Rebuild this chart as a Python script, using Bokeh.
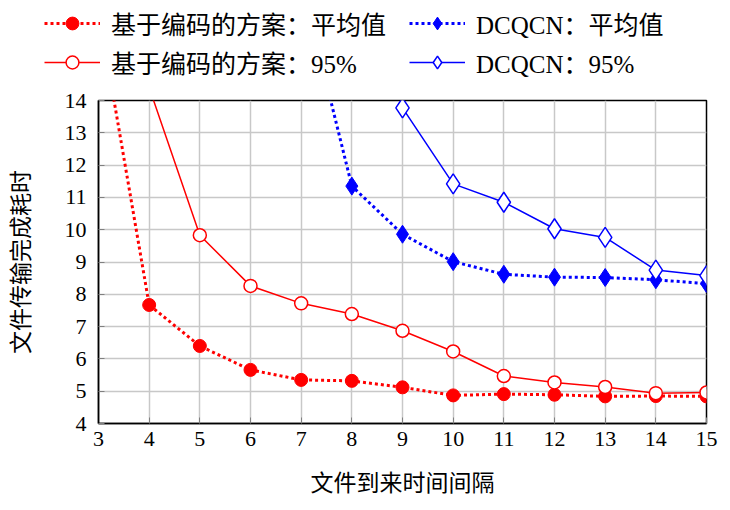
from bokeh.plotting import figure
from bokeh.models import Legend, LegendItem, FixedTicker, Range1d
from bokeh.layouts import column
from bokeh.embed import file_html
from bokeh.resources import INLINE

# Data
x_coded_mean = [3, 4, 5, 6, 7, 8, 9, 10, 11, 12, 13, 14, 15]
coded_mean = [16.8, 7.67, 6.40, 5.66, 5.35, 5.32, 5.12, 4.87, 4.91, 4.89, 4.84, 4.85, 4.84]
x_coded_p95 = [4, 5, 6, 7, 8, 9, 10, 11, 12, 13, 14, 15]
coded_p95 = [14.4, 9.83, 8.26, 7.72, 7.39, 6.87, 6.23, 5.47, 5.27, 5.13, 4.94, 4.96]
x_dcqcn_mean = [7, 8, 9, 10, 11, 12, 13, 14, 15]
dcqcn_mean = [17.7, 11.35, 9.86, 9.01, 8.62, 8.53, 8.52, 8.45, 8.33]
x_dcqcn_p95 = [9, 10, 11, 12, 13, 14, 15]
dcqcn_p95 = [13.77, 11.42, 10.85, 10.03, 9.76, 8.75, 8.58]

x_ticks = list(range(3, 16))
y_ticks = list(range(4, 15))

label_coded_mean = "基于编码的方案：平均值"
label_dcqcn_mean = "DCQCN：平均值"
label_coded_p95 = "基于编码的方案：95%"
label_dcqcn_p95 = "DCQCN：95%"
x_label = "文件到来时间间隔"
y_label = "文件传输完成耗时"

FONT = "Liberation Serif, Noto Sans CJK SC"
RED = "#ff0000"
BLUE = "#0000ff"

STYLES = [
    dict(color=RED, dash="3 3", lw=3, marker="circle", size=13, fill=RED, mlw=1),
    dict(color=BLUE, dash="3 3", lw=3, marker="diamond", size=18, fill=BLUE, mlw=1),
    dict(color=RED, dash="solid", lw=1.5, marker="circle", size=13, fill="white", mlw=1.5),
    dict(color=BLUE, dash="solid", lw=1.5, marker="diamond", size=20, fill="white", mlw=1.5),
]
SERIES = [
    (x_coded_mean, coded_mean, label_coded_mean),
    (x_dcqcn_mean, dcqcn_mean, label_dcqcn_mean),
    (x_coded_p95, coded_p95, label_coded_p95),
    (x_dcqcn_p95, dcqcn_p95, label_dcqcn_p95),
]

# ---- main plot ----
p = figure(width=730, height=425, output_backend="svg", toolbar_location=None,
           x_range=Range1d(3, 15), y_range=Range1d(4, 14),
           min_border_left=98, min_border_right=24, min_border_top=15, min_border_bottom=87)
p.frame_align = False
p.background_fill_color = "white"
p.border_fill_color = "white"
p.outline_line_color = "black"
p.outline_line_width = 1.5

for ax in (p.xaxis[0], p.yaxis[0]):
    ax.major_tick_in = 6
    ax.major_tick_out = 0
    ax.minor_tick_in = 0
    ax.minor_tick_out = 0
    ax.major_tick_line_color = "#808080"
    ax.axis_line_color = "black"
    ax.axis_line_width = 1.5
    ax.major_label_text_font = FONT
    ax.major_label_text_font_size = "22px"
    ax.major_label_text_color = "black"
    ax.axis_label_text_font = FONT
    ax.axis_label_text_font_size = "23px"
    ax.axis_label_text_font_style = "normal"
    ax.axis_label_text_color = "black"

p.xaxis[0].ticker = FixedTicker(ticks=x_ticks)
p.yaxis[0].ticker = FixedTicker(ticks=y_ticks)
p.xaxis[0].axis_label = x_label
p.yaxis[0].axis_label = y_label
p.xaxis[0].major_label_standoff = 8
p.yaxis[0].major_label_standoff = 12
p.xaxis[0].axis_label_standoff = 22
p.yaxis[0].axis_label_standoff = 28

p.xgrid.ticker = FixedTicker(ticks=x_ticks)
p.ygrid.ticker = FixedTicker(ticks=y_ticks)
for g in (p.xgrid[0], p.ygrid[0]):
    g.grid_line_color = "#c8c8c8"
    g.grid_line_width = 1.5

for (xs, ys, _), st in zip(SERIES, STYLES):
    p.line(xs, ys, line_color=st["color"], line_width=st["lw"], line_dash=st["dash"])
    p.scatter(xs, ys, marker=st["marker"], size=st["size"], fill_color=st["fill"],
              line_color=st["color"], line_width=st["mlw"])

# ---- legend strip on top (its renderers hold the same data, outside its view) ----
lf = figure(width=730, height=85, output_backend="svg", toolbar_location=None,
            x_range=Range1d(0, 1), y_range=Range1d(0, 1),
            x_axis_location=None, y_axis_location=None,
            min_border=0, min_border_left=0, min_border_right=0,
            min_border_top=0, min_border_bottom=0)
lf.frame_align = False
lf.outline_line_color = None
lf.xgrid.visible = False
lf.ygrid.visible = False
lf.background_fill_color = "white"
lf.border_fill_color = "white"

items = []
for (xs, ys, label), st in zip(SERIES, STYLES):
    rl = lf.line(xs, ys, line_color=st["color"], line_width=st["lw"], line_dash=st["dash"])
    rm = lf.scatter(xs, ys, marker=st["marker"], size=st["size"], fill_color=st["fill"],
                    line_color=st["color"], line_width=st["mlw"])
    items.append(LegendItem(label=label, renderers=[rl, rm]))

legend = Legend(items=items, orientation="horizontal", ncols=2, location=(44, 5))
legend.border_line_color = None
legend.background_fill_alpha = 0
legend.label_text_font = FONT
legend.label_text_font_size = "25px"
legend.label_text_color = "black"
legend.glyph_width = 56
legend.glyph_height = 32
legend.label_height = 32
legend.label_standoff = 11
legend.label_width = 295
legend.spacing = 3
legend.padding = 4
legend.margin = 0
lf.add_layout(legend)

layout = column(lf, p, spacing=0)
open("out.html", "w").write(file_html(layout, INLINE))
